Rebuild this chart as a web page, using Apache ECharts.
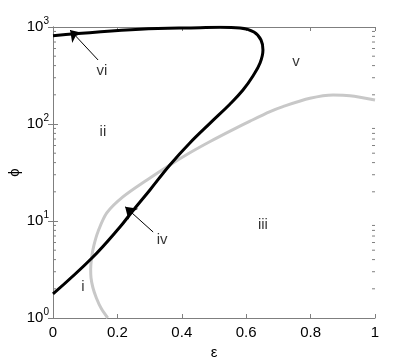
<!DOCTYPE html>
<html>
<head>
<meta charset="utf-8">
<script src="https://cdn.jsdelivr.net/npm/echarts@6/dist/echarts.min.js"></script>
<style>
  html, body { margin: 0; padding: 0; background: #fff; }
  #chart { width: 415px; height: 360px; }
</style>
</head>
<body>
<div id="chart"></div>
<script>
  // black curve (epsilon, phi)
  var blackEps = [0, 0.121, 0.208, 0.245, 0.301, 0.363, 0.425, 0.488, 0.550, 0.590, 0.621, 0.643, 0.652, 0.646, 0.624, 0.581, 0.519, 0.457, 0.27, 0];
  var blackPhi = [1.77, 4.15, 8.67, 12.4, 20.9, 37.8, 63.7, 102, 161, 224, 313, 425, 579, 735, 888, 977, 995, 985, 946, 813];
  // grey curve
  var greyEps = [0.17, 0.150, 0.135, 0.124, 0.118, 0.117, 0.120, 0.127, 0.140, 0.167, 0.217, 0.292, 0.363, 0.425, 0.488, 0.559, 0.612, 0.674, 0.714, 0.798, 0.870, 0.922, 1.0];
  var greyPhi = [1.0, 1.25, 1.6, 2.05, 2.6, 3.2, 4.2, 5.6, 7.8, 12.1, 17.7, 26.5, 37.8, 50.5, 66, 87.5, 107, 134, 151, 184, 199, 196, 177];

  // region labels
  var regionNames = ['i', 'ii', 'iii', 'iv', 'v', 'vi'];
  var regionEps = [0.093, 0.155, 0.652, 0.339, 0.755, 0.152];
  var regionPhi = [2.09, 82.7, 9.1, 6.4, 436, 352];

  // arrows: [tailEps, tailPhi, headEps, headPhi]
  var arrowVi = [0.14, 457, 0.053, 931];
  var arrowIv = [0.311, 7.7, 0.224, 14.0];

  var xTicks = [0, 0.2, 0.4, 0.6, 0.8, 1];
  var minorTicks = [];
  for (var d = 1; d < 1000; d *= 10) {
    for (var k = 2; k <= 9; k++) minorTicks.push(k * d);
  }

  function pairs(xs, ys) {
    return xs.map(function (x, i) { return [x, ys[i]]; });
  }

  var font = 'Liberation Sans';
  var frameColor = '#7f7f7f';

  var chart = echarts.init(document.getElementById('chart'));
  chart.setOption({
    animation: false,
    textStyle: { fontFamily: font },
    grid: { left: 53, right: 40, top: 27, bottom: 42, outerBoundsMode: 'none', containLabel: false },
    xAxis: [
      {
        type: 'value', min: 0, max: 1, interval: 0.2,
        name: 'ε', nameLocation: 'middle', nameGap: 27,
        nameTextStyle: { fontSize: 15, color: '#000', fontFamily: font },
        axisLine: { lineStyle: { color: frameColor, width: 1 } },
        axisTick: { inside: true, length: 4, lineStyle: { color: frameColor } },
        axisLabel: {
          margin: 7, fontSize: 15, color: '#000', fontFamily: font,
          formatter: function (v) { return xTicks.indexOf(v) >= 0 ? String(v) : ''; }
        },
        splitLine: { show: false }
      },
      {
        type: 'value', min: 0, max: 1, interval: 0.2, position: 'top',
        axisLine: { lineStyle: { color: frameColor, width: 1 } },
        axisTick: { inside: true, length: 4, lineStyle: { color: frameColor } },
        axisLabel: { show: false },
        splitLine: { show: false }
      }
    ],
    yAxis: [
      {
        type: 'log', logBase: 10, min: 1, max: 1000,
        name: 'ϕ', nameLocation: 'middle', nameGap: 31, nameMoveOverlap: false,
        nameTextStyle: { fontSize: 15, color: '#000', fontFamily: font },
        axisLine: { show: true, lineStyle: { color: frameColor, width: 1 } },
        axisTick: { inside: true, length: 5, lineStyle: { color: frameColor } },
        axisLabel: {
          margin: 4, color: '#000',
          formatter: function (v) {
            return '{b|10}{s|' + Math.round(Math.log10(v)) + '}';
          },
          rich: {
            b: { fontSize: 15, fontFamily: font, color: '#000' },
            s: { fontSize: 10, fontFamily: font, color: '#000', padding: [0, 0, 11, 0] }
          }
        },
        splitLine: { show: false }
      },
      {
        type: 'log', logBase: 10, min: 1, max: 1000, position: 'right',
        axisLine: { show: true, lineStyle: { color: frameColor, width: 1 } },
        axisTick: { inside: true, length: 5, lineStyle: { color: frameColor } },
        axisLabel: { show: false },
        splitLine: { show: false }
      }
    ],
    series: [
      {
        type: 'custom',
        name: 'minorTicks',
        silent: true,
        clip: false,
        data: minorTicks,
        encode: { y: 0 },
        renderItem: function (params, api) {
          var v = api.value(0);
          var l = api.coord([0, v]);
          var r = api.coord([1, v]);
          var st = { stroke: frameColor, lineWidth: 1 };
          return {
            type: 'group',
            children: [
              { type: 'line', shape: { x1: l[0], y1: l[1], x2: l[0] + 3, y2: l[1] }, style: st },
              { type: 'line', shape: { x1: r[0], y1: r[1], x2: r[0] - 3, y2: r[1] }, style: st }
            ]
          };
        },
        z: 1
      },
      {
        type: 'line',
        name: 'grey',
        data: pairs(greyEps, greyPhi),
        smooth: 0.3,
        showSymbol: false,
        lineStyle: { color: '#c8c8c8', width: 3 },
        z: 2
      },
      {
        type: 'line',
        name: 'black',
        data: pairs(blackEps, blackPhi),
        smooth: 0.4,
        showSymbol: false,
        lineStyle: { color: '#000', width: 3 },
        z: 3,
        markLine: {
          silent: true,
          symbol: ['none', 'arrow'],
          symbolSize: 11,
          label: { show: false },
          lineStyle: { color: '#000', width: 1, type: 'solid' },
          data: [
            [{ coord: [arrowVi[0], arrowVi[1]] }, { coord: [arrowVi[2], arrowVi[3]] }],
            [{ coord: [arrowIv[0], arrowIv[1]] }, { coord: [arrowIv[2], arrowIv[3]] }]
          ]
        }
      },
      {
        type: 'scatter',
        name: 'regions',
        symbolSize: 0,
        silent: true,
        data: regionNames.map(function (n, i) { return { name: n, value: [regionEps[i], regionPhi[i]] }; }),
        label: {
          show: true, position: 'inside', formatter: '{b}',
          fontSize: 15, color: '#000', fontFamily: font
        },
        z: 4
      }
    ]
  });
</script>
</body>
</html>
